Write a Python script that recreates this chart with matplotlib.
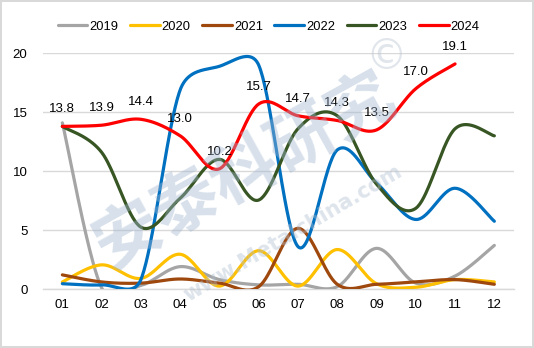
import numpy as np
import matplotlib
matplotlib.use("Agg")
import matplotlib.pyplot as plt

plt.rcParams['font.family'] = ['Liberation Sans', 'DejaVu Sans']

months = ["01", "02", "03", "04", "05", "06", "07", "08", "09", "10", "11", "12"]

y2019 = [14.1, 0.1, 0.3, 1.9, 0.8, 0.35, 0.4, 0.2, 3.45, 0.5, 1.1, 3.7]
y2020 = [0.6, 2.05, 0.9, 2.95, 0.25, 3.25, 0.25, 3.35, 0.45, 0.15, 0.8, 0.6]
y2021 = [1.2, 0.6, 0.5, 0.85, 0.5, 0.2, 5.15, 0.4, 0.4, 0.6, 0.8, 0.4]
y2022 = [0.45, 0.35, 0.8, 16.9, 18.9, 19.0, 3.6, 11.8, 9.0, 5.9, 8.55, 5.75]
y2023 = [13.8, 11.6, 5.25, 7.7, 11.0, 7.55, 13.6, 14.7, 8.9, 6.85, 13.6, 13.0]
y2024 = [13.8, 13.9, 14.4, 13.0, 10.2, 15.7, 14.7, 14.3, 13.5, 17.0, 19.1]

series = [
    ("2019", y2019, "#A5A5A5"),
    ("2020", y2020, "#FFC000"),
    ("2021", y2021, "#9E480E"),
    ("2022", y2022, "#0070C0"),
    ("2023", y2023, "#375623"),
    ("2024", y2024, "#FF0000"),
]

# pixel size of one x step and one y unit, used for the smoothing geometry
PX_X, PX_Y = 39.2, 11.78


def smooth_curve(xs, ys, steps=40):
    """Bezier smoothing through every point with arm lengths capped
    at half of the segment length (measured on screen)."""
    P = np.column_stack([np.asarray(xs, float) * PX_X, np.asarray(ys, float) * PX_Y])
    n = len(P)
    out = []
    t = np.linspace(0, 1, steps)[:, None]
    for i in range(n - 1):
        i0 = max(i - 1, 0)
        i3 = min(i + 2, n - 1)
        p0, p3 = P[i], P[i + 1]
        half = np.linalg.norm(p3 - p0) / 2.0
        a1 = (P[i + 1] - P[i0]) / 6.0
        a2 = (P[i3] - P[i]) / 6.0
        for a in (a1, a2):
            L = np.linalg.norm(a)
            if L > half and L > 0:
                a *= half / L
        c1 = p0 + a1
        c2 = p3 - a2
        seg = ((1 - t) ** 3) * p0 + 3 * ((1 - t) ** 2) * t * c1 \
            + 3 * (1 - t) * t ** 2 * c2 + t ** 3 * p3
        out.append(seg if i == 0 else seg[1:])
    seg = np.vstack(out)
    return seg[:, 0] / PX_X, seg[:, 1] / PX_Y


fig = plt.figure(figsize=(5.34, 3.48), dpi=100)
fig.patch.set_facecolor("white")
fig.patch.set_edgecolor("#D9D9D9")
fig.patch.set_linewidth(1.5)

ax = fig.add_axes([0.080, 0.1695, 0.8825, 0.6773])
ax.set_xlim(-0.5, 11.5)
ax.set_ylim(0, 20)

# watermark
fig.text(0.457, 0.51, "安泰科研究", fontsize=48, fontweight="bold",
         family=["Noto Sans CJK SC"], color="#9FB5CF", alpha=0.42,
         rotation=29, ha="center", va="center", zorder=0)
fig.text(0.548, 0.33, "www.Metalchina.com", fontsize=15, fontweight="bold",
         family=["DejaVu Sans"], color="#B0BFD0", alpha=0.42,
         rotation=30.5, ha="center", va="center", zorder=0)
fig.text(0.723, 0.835, "©", fontsize=30, family=["DejaVu Sans"],
         color="#B8C4D2", alpha=0.42, ha="center", va="center", zorder=0)

ax.set_yticks([0, 5, 10, 15, 20])
ax.grid(axis="y", color="#D9D9D9", linewidth=1.0)
ax.set_axisbelow(True)
for s in ["top", "right", "left"]:
    ax.spines[s].set_visible(False)
ax.spines["bottom"].set_color("#D9D9D9")
ax.spines["bottom"].set_linewidth(1.0)
ax.set_facecolor("none")

x = np.arange(len(months))
ax.set_xticks(x)
ax.set_xticklabels(months)
ax.tick_params(axis="both", length=0, labelsize=9.5, colors="black")
ax.tick_params(axis="y", pad=11)
ax.tick_params(axis="x", pad=7)

for name, vals, color in series:
    xs = x[:len(vals)]
    sx, sy = smooth_curve(xs, vals)
    ax.plot(sx, sy, color=color, linewidth=2.3, label=name,
            solid_capstyle="round", clip_on=True, zorder=3)

for xi, v in zip(x, y2024):
    ax.annotate(f"{v:.1f}", (xi, v), xytext=(0, 12.3), textcoords="offset points",
                ha="center", va="center", fontsize=9.5, zorder=4)

fig.legend(loc="center", bbox_to_anchor=(0.503, 0.923), ncol=6, frameon=False,
           fontsize=9.3, handlelength=2.3, handletextpad=0.15, columnspacing=0.9)

fig.savefig("out.png", dpi=100)
